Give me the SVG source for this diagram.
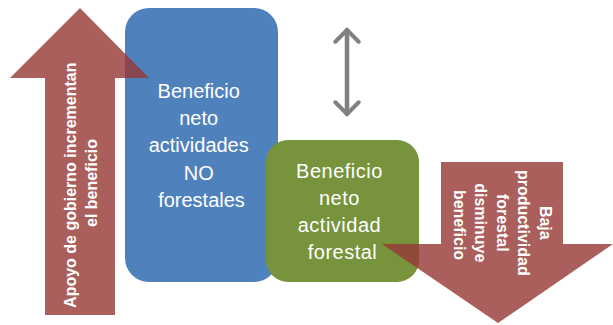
<svg xmlns="http://www.w3.org/2000/svg" width="613" height="325" viewBox="0 0 613 325">
  <style>
    .box-text { font-family: "Liberation Sans", Arial, sans-serif; font-size: 20px; fill: #ffffff; text-anchor: middle; }
    .arrow-text { font-family: "Liberation Sans", Arial, sans-serif; font-size: 16px; font-weight: bold; fill: #ffffff; text-anchor: middle; }
    .big-arrow { fill: #953735; fill-opacity: 0.8; }
  </style>
  <defs>
    <marker id="open-head" viewBox="0 0 10 10" refX="5" refY="5" markerWidth="6.5" markerHeight="6.5" markerUnits="strokeWidth" orient="auto-start-reverse">
      <path d="M1,1 L5,5 L1,9" fill="none" stroke="#808080" stroke-width="1.4" stroke-linecap="round" stroke-linejoin="round"/>
    </marker>
  </defs>
  <rect width="613" height="325" fill="#ffffff"/>

  <g id="node-no-forestales">
    <rect x="125" y="8" width="153" height="274" rx="24" fill="#4F81BD"/>
    <text class="box-text">
      <tspan x="201.5" y="98">Beneficio</tspan>
      <tspan x="201.5" y="125">neto</tspan>
      <tspan x="201.5" y="152">actividades</tspan>
      <tspan x="201.5" y="180">NO</tspan>
      <tspan x="201.5" y="207">forestales</tspan>
    </text>
  </g>

  <g id="node-forestal">
    <rect x="266" y="140" width="153" height="142" rx="22" fill="#77933C"/>
    <text class="box-text" letter-spacing="0.5">
      <tspan x="342.5" y="178">Beneficio</tspan>
      <tspan x="342.5" y="205">neto</tspan>
      <tspan x="342.5" y="232">actividad</tspan>
      <tspan x="342.5" y="259">forestal</tspan>
    </text>
  </g>

  <g id="node-apoyo">
    <polygon class="big-arrow" points="45,315 115,315 115,78 149,78 80,8 10,78 45,78"/>
    <text class="arrow-text" transform="translate(80,183) rotate(-90)">
      <tspan x="0" y="-4">Apoyo de gobierno incrementan</tspan>
      <tspan x="0" y="17">el beneficio</tspan>
    </text>
  </g>

  <g id="node-baja">
    <polygon class="big-arrow" points="441,162 563,162 563,244 613,244 498,323 382,244 441,244"/>
    <text class="arrow-text" transform="translate(500,225) rotate(90)">
      <tspan x="0" y="-39.5">Baja</tspan>
      <tspan x="0" y="-18">productividad</tspan>
      <tspan x="0" y="3.5">forestal</tspan>
      <tspan x="0" y="25">disminuye</tspan>
      <tspan x="0" y="46.5">beneficio</tspan>
    </text>
  </g>

  <g id="connectors">
    <line x1="347" y1="30" x2="347" y2="114" stroke="#808080" stroke-width="4.5" stroke-linecap="round" marker-start="url(#open-head)" marker-end="url(#open-head)"/>
  </g>
</svg>
